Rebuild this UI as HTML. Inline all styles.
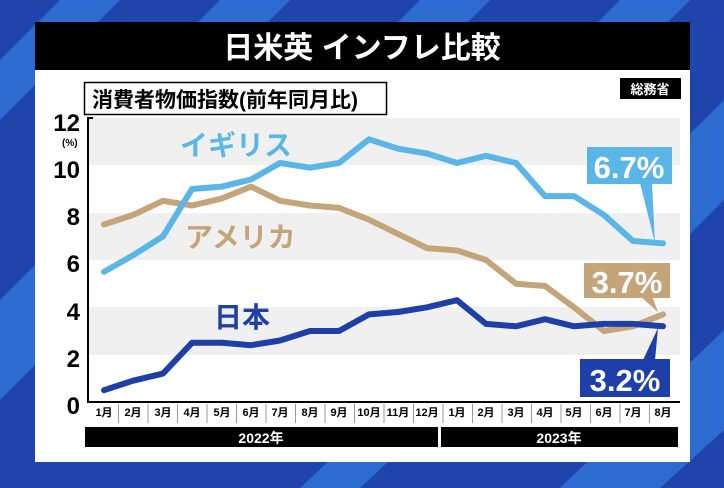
<!DOCTYPE html>
<html><head><meta charset="utf-8"><style>
html,body{margin:0;padding:0;width:724px;height:488px;overflow:hidden;background:#1f45ad}
svg{display:block}
text{font-family:"Liberation Sans","Noto Sans CJK JP",sans-serif;font-weight:bold}
</style></head><body>
<svg width="724" height="488" viewBox="0 0 724 488">
<rect width="724" height="488" fill="#1f45ad"/>
<g fill="#2c6bd0">
<polygon points="60,0 120,0 0,120 0,60"/>
<polygon points="220,0 290,0 200,90 130,90"/>
<polygon points="420,0 490,0 420,70 350,70"/>
<polygon points="620,0 690,0 620,70 550,70"/>
<polygon points="724,100 724,200 690,234 690,134"/>
<polygon points="724,330 724,430 660,488 560,488"/>
<polygon points="300,488 360,488 390,460 330,460"/>
<polygon points="0,300 0,400 35,365 35,265"/>
</g>
<rect x="35" y="22" width="655" height="440" fill="#fff"/>
<rect x="35" y="22" width="655" height="48" fill="#000"/>
<text x="362" y="58" font-size="30" fill="#fff" text-anchor="middle">日米英 インフレ比較</text>
<rect x="84.5" y="82.5" width="302" height="32" fill="#fff" stroke="#000" stroke-width="1.5"/>
<text x="92" y="107" font-size="21" fill="#000">消費者物価指数(前年同月比)</text>
<rect x="620" y="78" width="61" height="21" fill="#000"/>
<text x="650" y="94" font-size="13" fill="#fff" text-anchor="middle">総務省</text>
<!-- bands -->
<rect x="88" y="118" width="592" height="47" fill="#f0f0f0"/>
<rect x="88" y="213" width="592" height="47" fill="#f0f0f0"/>
<rect x="88" y="307" width="592" height="48" fill="#f0f0f0"/>
<path d="M93,118 H88 V402 H680" fill="none" stroke="#000" stroke-width="2"/>
<g font-size="24" fill="#000" text-anchor="end">
<text x="80" y="131">12</text><text x="80" y="178">10</text><text x="80" y="225">8</text>
<text x="80" y="272">6</text><text x="80" y="320">4</text><text x="80" y="367">2</text><text x="80" y="414">0</text>
</g>
<text x="62" y="146" font-size="10" fill="#000">(%)</text>
<!-- month labels -->
<g font-size="11" fill="#000" text-anchor="middle" stroke="#888" stroke-width="0">
<text x="104" y="416">1月</text><text x="133" y="416">2月</text><text x="163" y="416">3月</text><text x="192" y="416">4月</text><text x="222" y="416">5月</text><text x="251" y="416">6月</text><text x="280" y="416">7月</text><text x="310" y="416">8月</text><text x="339" y="416">9月</text><text x="369" y="416">10月</text><text x="398" y="416">11月</text><text x="427" y="416">12月</text><text x="457" y="416">1月</text><text x="486" y="416">2月</text><text x="516" y="416">3月</text><text x="545" y="416">4月</text><text x="574" y="416">5月</text><text x="604" y="416">6月</text><text x="633" y="416">7月</text><text x="663" y="416">8月</text>
</g>
<g stroke="#999" stroke-width="1">
<path d="M118.5,404V423 M148,404V423 M177.5,404V423 M207,404V423 M236.5,404V423 M266,404V423 M295.5,404V423 M325,404V423 M354.5,404V423 M384,404V423 M413.5,404V423 M443,404V423 M472.5,404V423 M502,404V423 M531.5,404V423 M561,404V423 M590.5,404V423 M620,404V423 M649.5,404V423"/>
</g>
<rect x="85" y="427" width="353" height="20" fill="#000"/>
<rect x="441" y="427" width="237" height="20" fill="#000"/>
<text x="261" y="443" font-size="14" fill="#fff" text-anchor="middle">2022年</text>
<text x="559" y="443" font-size="14" fill="#fff" text-anchor="middle">2023年</text>
<!-- series -->
<g fill="none" stroke-width="6" stroke-linejoin="round" stroke-linecap="round">
<polyline stroke="#c4a57a" points="104,224.5 133,215 163,200.8 192,205.5 222,198.4 251,186.6 280,200.8 310,205.5 339,207.9 369,219.7 398,233.9 427,248.1 457,250.5 486,260 516,283.7 545,286 574,307.3 604,331 633,326.3 663,314.4"/>
<polyline stroke="#5ab6e6" points="104,271.8 133,255.3 163,236.3 192,189 222,186.6 251,179.5 280,163 310,167.7 339,163 369,139.3 398,148.7 427,153.5 457,163 486,155.8 516,163 545,196.1 574,196.1 604,215 633,241 663,243.4"/>
<polyline stroke="#1e3fa8" points="104,390.2 133,380.7 163,373.6 192,342.8 222,342.8 251,345.2 280,340.5 310,331 339,331 369,314.4 398,312 427,307.3 457,300.2 486,323.9 516,326.3 545,319.2 574,326.3 604,323.9 633,323.9 663,326.3"/>
</g>
<!-- series labels -->
<text x="180" y="155" font-size="28" fill="#5ab6e6" font-weight="normal">イギリス</text>
<text x="185" y="247" font-size="28" fill="#c4a57a" font-weight="normal">アメリカ</text>
<text x="214" y="327" font-size="28" fill="#1e3fa8" font-weight="normal">日本</text>
<!-- value boxes -->
<polygon points="640,183 652,183 655,243" fill="#5ab6e6"/>
<rect x="587" y="147" width="85" height="37" fill="#5ab6e6"/>
<text x="629" y="178" font-size="31" fill="#fff" text-anchor="middle" font-weight="normal">6.7%</text>
<polygon points="640,296 652,296 658,312" fill="#c4a57a"/>
<rect x="584" y="263" width="86" height="35" fill="#c4a57a"/>
<text x="627" y="293" font-size="31" fill="#fff" text-anchor="middle" font-weight="normal">3.7%</text>
<polygon points="643,360 655,360 658,328" fill="#1e3fa8"/>
<rect x="580" y="359" width="90" height="38" fill="#1e3fa8"/>
<text x="625" y="391" font-size="31" fill="#fff" text-anchor="middle" font-weight="normal">3.2%</text>
</svg>
</body></html>
